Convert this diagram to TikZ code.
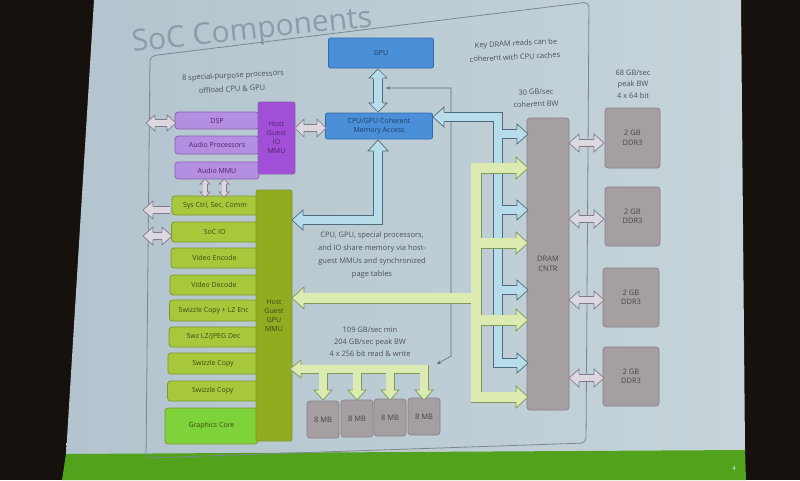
\documentclass[tikz,border=0pt]{standalone}
\usepackage{fontspec}
\setmainfont{Open Sans}
\usetikzlibrary{arrows.meta}
\definecolor{darkbg}{HTML}{16110D}
\definecolor{slidebgL}{HTML}{B3C4CE}
\definecolor{slidebgM}{HTML}{CBD8DE}
\definecolor{slidebgR}{HTML}{C6D4DA}
\definecolor{slidegreen}{HTML}{52A21E}
\definecolor{framec}{HTML}{7C878F}
\definecolor{titlec}{HTML}{8D9CA6}
\definecolor{txtc}{HTML}{4E5058}
\definecolor{bluefillc}{HTML}{4A8FD8}
\definecolor{blueedge}{HTML}{2E6AB0}
\definecolor{bluetxt}{HTML}{1E3E6A}
\definecolor{purprow}{HTML}{B48EE0}
\definecolor{purpedge}{HTML}{8760B5}
\definecolor{purpbar}{HTML}{A24FD8}
\definecolor{purptxt}{HTML}{4E2370}
\definecolor{greenrow}{HTML}{A8C83C}
\definecolor{greenedge}{HTML}{7C9628}
\definecolor{greenbar}{HTML}{92AC22}
\definecolor{brightgreen}{HTML}{7ED23A}
\definecolor{greentxt}{HTML}{3C4A12}
\definecolor{grayboxc}{HTML}{A59FA2}
\definecolor{grayedge}{HTML}{86808A}
\definecolor{graytxt}{HTML}{4A4448}
\definecolor{bbandfill}{HTML}{B7DCEA}
\definecolor{bbandline}{HTML}{4F6B7C}
\definecolor{gbandfill}{HTML}{DCEBB2}
\definecolor{gbandline}{HTML}{7E9856}
\definecolor{ybandfill}{HTML}{DDD8E0}
\definecolor{ybandline}{HTML}{7E7C88}
\colorlet{af}{bbandfill}\colorlet{al}{bbandline}
\tikzset{
  pics/hd/.style args={#1/#2/#3}{code={
    \fill[af] (0.4,0) -- (-#1,#2) -- (-#1,-#2) -- cycle;
    \draw[al, line width=0.7pt, line join=miter, line cap=butt]
      (-#1,#3) -- (-#1,#2) -- (0,0) -- (-#1,-#2) -- (-#1,-#3);
  }},
  lbl/.style={font=\fontsize{7.5}{11.5}\selectfont, text=txtc, align=center, inner sep=0pt},
  boxbase/.style={line width=0.7pt, inner sep=0pt, align=center, font=\fontsize{7}{9}\selectfont},
  bluebox/.style={boxbase, draw=blueedge, fill=bluefillc, text=bluetxt, rounded corners=2pt},
  purprowbox/.style={boxbase, draw=purpedge, fill=purprow, text=purptxt, rounded corners=3pt},
  purpbarbox/.style={boxbase, draw=purpedge, fill=purpbar, text=purptxt, rounded corners=2pt},
  greenrowbox/.style={boxbase, draw=greenedge, fill=greenrow, text=greentxt, rounded corners=3pt},
  greenbarbox/.style={boxbase, draw=greenedge, fill=greenbar, text=greentxt, rounded corners=2pt},
  greenbrightbox/.style={boxbase, draw=greenedge, fill=brightgreen, text=greentxt, rounded corners=3pt},
  graybox/.style={boxbase, draw=grayedge, fill=grayboxc, text=graytxt, rounded corners=3pt, font=\fontsize{7.5}{9.5}\selectfont},
  thinc/.style={draw=framec!80!black, line width=0.6pt},
}
\newcommand\bluenet[1]{%
  \draw[#1] (378,78.5) -- (378,102.5);
  \draw[#1] (378,150) -- (378,220) -- (301.5,220);
  \draw[#1] (442,117) -- (498,117) -- (498,363) -- (518,363);
  \foreach \yy in {134,210,290} {\draw[#1] (498,\yy) -- (518,\yy);}
}
\newcommand\greennet[1]{%
  \draw[#1] (518,168) -- (476,168) -- (476,397) -- (518,397);
  \foreach \yy in {243,320} {\draw[#1] (476,\yy) -- (518,\yy);}
  \draw[#1] (476,298) -- (302.5,298);
}
\newcommand\esramnet[1]{%
  \draw[#1] (300,369) -- (424,369) -- (424,392);
  \foreach \xx in {323,357,390} {\draw[#1] (\xx,369) -- (\xx,392);}
}
\newcommand\grayarrows[1]{%
  \draw[#1] (303.5,128) -- (317.5,128);
  \draw[#1] (154.5,123) -- (168.5,123);
  \draw[#1] (151.5,210) -- (170,210);
  \draw[#1] (151.5,236) -- (162.5,236);
  \foreach \yy in {143,219,300,378} {\draw[#1] (578.5,\yy) -- (595.5,\yy);}
}
\newcommand\smallarrows[1]{%
  \foreach \xx in {205,224} {\draw[#1] (\xx,183.5) -- (\xx,192.5);}
}
\begin{document}
\begin{tikzpicture}[x=1pt,y=-1pt]
\useasboundingbox (0,0) rectangle (800,480);
% slide and surroundings
\fill[darkbg] (0,0) rectangle (800,480);
\shade[left color=slidebgL, middle color=slidebgM, right color=slidebgR] (94,0) -- (741,0) -- (745,451) -- (66,455) -- cycle;
\fill[slidegreen] (66,454) -- (745,450) -- (746,480) -- (62,480) -- cycle;
\node[font=\fontsize{6}{6}\selectfont, text=white!85!green] (pg) at (734,468) {4};
% title
\node[font=\fontsize{30}{30}\selectfont, text=titlec, rotate=6, inner sep=0pt] (title) at (252,32) {SoC Components};
% frame
\draw[framec, line width=0.8pt, rounded corners=5pt] (150,56) -- (589,2) -- (586,443) -- (146,458) -- cycle;
% texts
\node[lbl, rotate=3] (keytxt1) at (516,44) {Key DRAM reads can be};
\node[lbl, rotate=3] (keytxt2) at (515,57) {coherent with CPU caches};
\node[lbl] (bw68) at (633,84) {68 GB/sec\\peak BW\\4 x 64 bit};
\node[lbl, rotate=2] (bw30a) at (536,92) {30 GB/sec};
\node[lbl, rotate=2] (bw30b) at (536,104) {coherent BW};
\node[lbl, rotate=3] (sptxt1) at (233,76) {8 special-purpose processors};
\node[lbl, rotate=3] (sptxt2) at (232,89) {offload CPU \& GPU};
\node[lbl, font=\fontsize{7.5}{13}\selectfont] (mmutxt) at (372,255) {CPU, GPU, special processors,\\and IO share memory via host-\\guest MMUs and synchronized\\page tables};
\node[lbl, font=\fontsize{7.5}{12}\selectfont] (esramtxt) at (370,342) {109 GB/sec min\\204 GB/sec peak BW\\4 x 256 bit read \& write};
% thin connector GPU path <-> ESRAM
\coordinate (tA) at (386,88);
\coordinate (tB) at (451,88);
\coordinate (tC) at (451,356);
\coordinate (tD) at (437,364);
\draw[thinc, {Stealth[length=4pt,width=3.5pt]}-{Stealth[length=4pt,width=3.5pt]}] (tA) -- (tB) -- (tC) -- (tD);
% top blue boxes
\node[bluebox, minimum width=105pt, minimum height=30pt] (gpu) at (381,53) {GPU};
\node[bluebox, minimum width=107pt, minimum height=26pt] (coh) at (379,126) {CPU/GPU Coherent\\Memory Access};
% purple group
\node[purprowbox, minimum width=84pt, minimum height=17pt] (p1) at (217,120.5) {DSP};
\node[purprowbox, minimum width=84pt, minimum height=18pt] (p2) at (217,145) {Audio Processors};
\node[purprowbox, minimum width=84pt, minimum height=17pt] (p3) at (217,170.5) {Audio MMU};
\node[purpbarbox, minimum width=37pt, minimum height=72pt] (pbar) at (276.5,138) {Host\\Guest\\IO\\MMU};
% green group
\node[greenrowbox, minimum width=86pt, minimum height=19pt] (g1) at (215,205.5) {Sys Ctrl, Sec, Comm};
\node[greenrowbox, minimum width=86.5pt, minimum height=20pt] (g2) at (214.75,232) {SoC IO};
\node[greenrowbox, minimum width=87pt, minimum height=20pt] (g3) at (214.5,258) {Video Encode};
\node[greenrowbox, minimum width=88pt, minimum height=20pt] (g4) at (214,285) {Video Decode};
\node[greenrowbox, minimum width=88.5pt, minimum height=21pt] (g5) at (213.75,310.5) {Swizzle Copy + LZ Enc};
\node[greenrowbox, minimum width=89pt, minimum height=20pt] (g6) at (213.5,337) {Swz LZ/JPEG Dec};
\node[greenrowbox, minimum width=90pt, minimum height=21pt] (g7) at (213,363.5) {Swizzle Copy};
\node[greenrowbox, minimum width=90.5pt, minimum height=20pt] (g8) at (212.75,391) {Swizzle Copy};
\node[greenbrightbox, minimum width=93pt, minimum height=36pt] (g9) at (211.5,426) {Graphics Core};
\node[greenbarbox, minimum width=36pt, minimum height=251pt] (gbar) at (274,315.5) {Host\\Guest\\GPU\\MMU};
% memory
\node[graybox, minimum width=32pt, minimum height=37pt] (e1) at (323,419.5) {8 MB};
\node[graybox, minimum width=32pt, minimum height=37pt] (e2) at (357,418.5) {8 MB};
\node[graybox, minimum width=32pt, minimum height=37pt] (e3) at (390,417.5) {8 MB};
\node[graybox, minimum width=32pt, minimum height=37pt] (e4) at (424,416.5) {8 MB};
\node[graybox, minimum width=42pt, minimum height=292pt] (dram) at (548,264) {DRAM\\CNTR};
\node[graybox, minimum width=55pt, minimum height=60pt] (d1) at (632.5,138) {2 GB\\DDR3};
\node[graybox, minimum width=55pt, minimum height=59pt] (d2) at (632.5,216.5) {2 GB\\DDR3};
\node[graybox, minimum width=56pt, minimum height=59pt] (d3) at (631,297.5) {2 GB\\DDR3};
\node[graybox, minimum width=56pt, minimum height=59pt] (d4) at (631,376.5) {2 GB\\DDR3};
% blue buses
\begin{scope}
\colorlet{af}{bbandfill}\colorlet{al}{bbandline}
\bluenet{draw=bbandline, line width=10pt}
\bluenet{draw=bbandfill, line width=8.6pt}
\pic[rotate=90] at (378,69) {hd=9/9/4.7};
\pic[rotate=-90] at (378,112) {hd=9/9/4.7};
\pic[rotate=90] at (378,140) {hd=11/10/4.7};
\pic[rotate=180] at (292,220) {hd=11/10/4.7};
\pic[rotate=180] at (433,117) {hd=11/10/4.7};
\foreach \yy in {134,210,290,363} {\pic at (528,\yy) {hd=11/10/4.7};}
\end{scope}
% green buses
\begin{scope}
\colorlet{af}{gbandfill}\colorlet{al}{gbandline}
\greennet{draw=gbandline, line width=11pt}
\greennet{draw=gbandfill, line width=9.6pt}
\foreach \yy in {168,243,320,397} {\pic at (528,\yy) {hd=12/11/5.2};}
\pic[rotate=180] at (292,298) {hd=12/11/5.2};
\esramnet{draw=gbandline, line width=9pt}
\esramnet{draw=gbandfill, line width=7.6pt}
\pic[rotate=180] at (290,369) {hd=11/9/4.2};
\foreach \xx in {323,357,390,424} {\pic[rotate=-90] at (\xx,400) {hd=10/9/4.2};}
\end{scope}
% gray arrows
\begin{scope}
\colorlet{af}{ybandfill}\colorlet{al}{ybandline}
\grayarrows{draw=ybandline, line width=8pt}
\grayarrows{draw=ybandfill, line width=6.6pt}
\pic[rotate=180] at (295,128) {hd=9/9/3.7};
\pic at (326,128) {hd=9/9/3.7};
\pic[rotate=180] at (146,123) {hd=9/8/3.7};
\pic at (176,123) {hd=9/8/3.7};
\pic[rotate=180] at (143,210) {hd=10/9/3.7};
\pic[rotate=180] at (143,236) {hd=10/9/3.7};
\pic at (172,236) {hd=10/9/3.7};
\foreach \yy in {143,219,300,378} {\pic[rotate=180] at (569,\yy) {hd=10/9/3.7}; \pic at (604,\yy) {hd=10/9/3.7};}
\smallarrows{draw=ybandline, line width=5pt}
\smallarrows{draw=ybandfill, line width=3.6pt}
\foreach \xx in {205,224} {\pic[rotate=90] at (\xx,179) {hd=5/5/2.2}; \pic[rotate=-90] at (\xx,197) {hd=5/5/2.2};}
\end{scope}
\end{tikzpicture}
\end{document}
